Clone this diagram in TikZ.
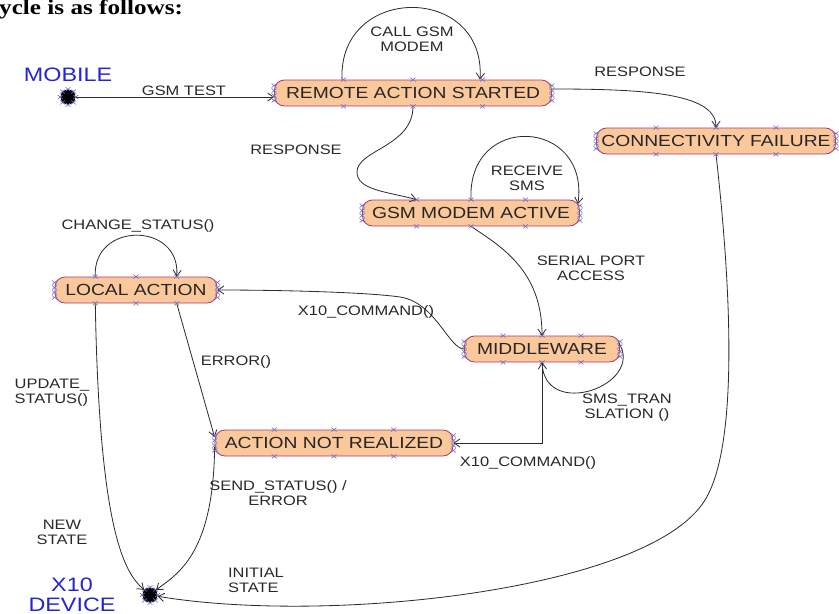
\documentclass[tikz,border=0pt]{standalone}
\usepackage{fontspec}
\setmainfont{Liberation Sans}
\newfontfamily\stretchsans[FakeStretch=1.2]{Liberation Sans}
\newfontfamily\stretchserif[FakeStretch=1.2]{Liberation Serif}
\usetikzlibrary{arrows.meta,calc}
\definecolor{statefill}{RGB}{250,200,155}
\definecolor{stateline}{RGB}{170,60,115}
\definecolor{markc}{RGB}{110,110,200}
\definecolor{edgec}{RGB}{45,45,45}
\definecolor{bluet}{RGB}{35,35,215}
\definecolor{labelc}{RGB}{40,40,40}
\tikzset{
  xmark/.pic={\draw[markc, line width=0.5pt] (-2.5,-2) -- (2.5,2) (-2.5,2) -- (2.5,-2);},
  statebox/.style={draw=stateline, fill=statefill, line width=0.7pt, rounded corners=0.3cm,
    minimum height=0.78cm, inner sep=0pt, text=black!85,
    font=\stretchsans\fontsize{13.7pt}{15pt}\selectfont},
  lbl/.style={font=\stretchsans\fontsize{11.7pt}{12.8pt}\selectfont, text=labelc, align=center, inner sep=0pt},
  bluelbl/.style={font=\stretchsans\fontsize{16.6pt}{16.6pt}\selectfont, text=bluet, align=center, inner sep=0pt},
  arr/.style={draw=edgec, line width=0.7pt, -{Straight Barb[length=5pt,width=7pt]}},
  blob/.style={circle, fill=black, minimum size=0.45cm, inner sep=0pt},
}
\newcommand{\statemarks}[1]{%
  \foreach \f in {0.25,0.5,0.75} {
    \path ($(#1.north west)!\f!(#1.north east)$) pic {xmark};
    \path ($(#1.south west)!\f!(#1.south east)$) pic {xmark};
  }
  \foreach \d in {-7.5,-2.5,2.5,7.5} {
    \path ($(#1.west)+(0,\d)$) pic {xmark};
    \path ($(#1.east)+(0,\d)$) pic {xmark};
  }
}
\newcommand{\blobmarks}[1]{%
  \foreach \a in {north,south,east,west,north east,north west,south east,south west} {
    \path (#1.\a) pic {xmark};
  }
}
\begin{document}
\begin{tikzpicture}[x=0.03cm,y=-0.03cm]
\useasboundingbox (0,0) rectangle (839,613);

\node[anchor=base west, inner sep=0pt, font=\stretchserif\bfseries\fontsize{17.9pt}{20pt}\selectfont] (title) at (-1,14) {ycle is as follows:};

% states
\node[statebox, minimum width=8.31cm] (remote) at (413,93) {REMOTE ACTION STARTED};
\node[statebox, minimum width=7.17cm] (cf) at (716,141) {CONNECTIVITY FAILURE};
\node[statebox, minimum width=6.51cm] (gsm) at (471,213) {GSM MODEM ACTIVE};
\node[statebox, minimum width=4.86cm] (local) at (136,290) {LOCAL ACTION};
\node[statebox, minimum width=4.65cm] (mid) at (542,349) {MIDDLEWARE};
\node[statebox, minimum width=7.14cm] (anr) at (334,443) {ACTION NOT REALIZED};

% pseudo states
\node[blob] (mobile) at (68,97) {};
\node[blob] (dev) at (150,595) {};
\blobmarks{mobile}
\blobmarks{dev}

\node[bluelbl] (lmobile) at (68,75) {MOBILE};
\node[bluelbl] (ldev) at (72,595) {X10\\DEVICE};

% edges
\draw[arr] (mobile) -- (remote.west |- mobile);
\draw[arr] ($(remote.north)+(-71,0)$) .. controls +(-4,-96) and +(6,-96) .. ($(remote.north)+(67,0)$);
\draw[arr] (remote.south) .. controls +(0,40) and +(0,-22) .. (357,172)
  .. controls +(0,18) and +(-30,-8) .. ($(gsm.north west)!0.25!(gsm.north east)$);
\draw[arr] ($(remote.east)+(0,-4)$) .. controls +(90,0) and +(0,-35) .. (cf.north);
\draw[arr] (gsm.north) .. controls +(-4,-88) and +(12,-86) .. ($(gsm.east)+(-2,-9)$);
\draw[arr] (gsm.south) .. controls +(30,20) and +(0,-65) .. (mid.north);
\draw[arr] ($(mid.east)+(-1,-6)$) .. controls +(26,42) and +(3,58) .. (mid.south);
\draw[arr] (mid.west) .. controls +(-15,0) and +(35,5) .. (400,297)
  .. controls +(-35,-5) and +(60,0) .. (local.east);
\draw[arr] ($(local.north west)!0.25!(local.north east)$) .. controls +(-3,-55) and +(4,-55) .. ($(local.north west)!0.75!(local.north east)$);
\draw[arr] ($(local.south west)!0.75!(local.south east)$) -- ($(anr.west)+(0,-6)$);
\draw[arr] (mid.south) |- (anr.east);
\draw[arr] ($(local.south west)!0.25!(local.south east)$) .. controls +(4,230) and +(-25,-22) .. (dev);
\draw[arr] ($(anr.west)+(0,4)$) .. controls +(-1,110) and +(25,-20) .. (dev);
\draw[arr] (cf.south) .. controls +(12,106) and +(37,-60) .. (705,500)
  .. controls +(-55,90) and +(180,30) .. (dev);

\statemarks{remote}
\statemarks{cf}
\statemarks{gsm}
\statemarks{local}
\statemarks{mid}
\statemarks{anr}

% labels
\node[lbl] (lgsmtest) at (184,91) {GSM TEST};
\node[lbl] (lcall) at (412,39) {CALL GSM\\MODEM};
\node[lbl] (lresp1) at (296,150) {RESPONSE};
\node[lbl] (lresp2) at (640,72) {RESPONSE};
\node[lbl] (lrecv) at (527,178) {RECEIVE\\SMS};
\node[lbl] (lchg) at (138,226) {CHANGE\_STATUS()};
\node[lbl] (lserial) at (591,268) {SERIAL PORT\\ACCESS};
\node[lbl] (lx10a) at (366,312) {X10\_COMMAND()};
\node[lbl] (lerr) at (236,362) {ERROR()};
\node[lbl, align=left] (lupd) at (52,393) {UPDATE\_\\STATUS()};
\node[lbl] (lsms) at (627,408) {SMS\_TRAN\\SLATION ()};
\node[lbl] (lx10b) at (528,463) {X10\_COMMAND()};
\node[lbl] (lsend) at (278,493) {SEND\_STATUS() /\\ERROR};
\node[lbl] (lnew) at (62,532) {NEW\\STATE};
\node[lbl, align=left] (linit) at (256,580) {INITIAL\\STATE};
\end{tikzpicture}
\end{document}
